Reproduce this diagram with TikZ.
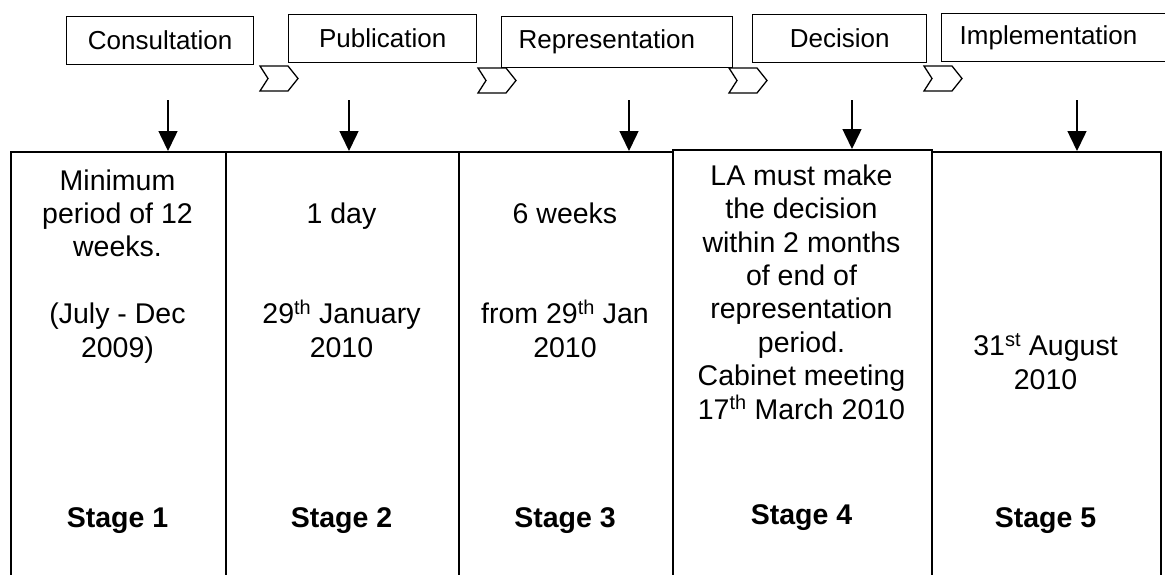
\documentclass[tikz,border=0pt]{standalone}
\usepackage{fontspec}
\setmainfont{Liberation Sans}
\usetikzlibrary{arrows.meta}

\begin{document}
\begin{tikzpicture}[x=1pt, y=-1pt,
    stepbox/.style={draw, line width=1.3pt, inner sep=0pt, minimum height=48pt, anchor=north west, font=\fontsize{26}{30}\selectfont},
    column/.style={draw, line width=1.5pt, fill=white, inner sep=0pt, minimum height=460pt, anchor=north west},
    coltext/.style={align=center, anchor=base, inner sep=0pt, font=\fontsize{28.5}{33.4}\selectfont},
    stagelbl/.style={anchor=base, inner sep=0pt, font=\fontsize{28.5}{33.4}\selectfont\bfseries},
    feed/.style={line width=1.5pt, -{Triangle[length=20pt, width=19pt]}},
    chevron/.pic={\draw[line width=1.3pt] (0,0) -- (28,0) -- (38,12.5) -- (28,25) -- (0,25) -- (8,12.5) -- cycle;}]
    \useasboundingbox[fill=white] (0,0) rectangle (1165,574);

    % top labels
    \node[stepbox, minimum width=187pt] (cons) at (66,16) {Consultation};
    \node[stepbox, minimum width=188pt] (pub) at (288,14) {Publication};
    \node[stepbox, minimum height=51pt, text width=197pt, inner xsep=17pt, align=left] (rep) at (501,16) {Representation};
    \node[stepbox, minimum width=174pt] (dec) at (752,14) {Decision};
    \node[stepbox, text width=212pt, inner xsep=18pt, align=left] (imp) at (941,13) {Implementation};

    % chevrons between the labels
    \pic at (260,66) {chevron};
    \pic at (478,68) {chevron};
    \pic at (729,68) {chevron};
    \pic at (924,66) {chevron};

    % stage columns
    \node[column, minimum width=215pt] (s1) at (10,151) {};
    \node[column, minimum width=233pt] (s2) at (225,151) {};
    \node[column, minimum width=214pt] (s3) at (458,151) {};
    \node[column, minimum width=229pt] (s5) at (931,151) {};
    \node[column, minimum width=259pt] (s4) at (672,149) {};

    % arrows down
    \coordinate (a1) at (168,100);
    \coordinate (a2) at (349,100);
    \coordinate (a3) at (629,100);
    \coordinate (a4) at (852,100);
    \coordinate (a5) at (1077,100);
    \draw[feed] (a1) -- (a1 |- s1.north);
    \draw[feed] (a2) -- (a2 |- s2.north);
    \draw[feed] (a3) -- (a3 |- s3.north);
    \draw[feed] (a4) -- (a4 |- s4.north);
    \draw[feed] (a5) -- (a5 |- s5.north);

    % column texts
    \node[coltext] (t1) at (117.5,357) {Minimum\\period of 12\\weeks.\\[33.4pt](July - Dec\\2009)};
    \node[coltext] (t2) at (341.5,357) {1 day\\[66.8pt]29\textsuperscript{th} January\\2010};
    \node[coltext] (t3) at (565,357) {6 weeks\\[66.8pt]from 29\textsuperscript{th} Jan\\2010};
    \node[coltext] (t4) at (801.5,419) {LA must make\\the decision\\within 2 months\\of end of\\representation\\period.\\Cabinet meeting\\17\textsuperscript{th} March 2010};
    \node[coltext] (t5) at (1045.5,389) {31\textsuperscript{st} August\\2010};

    % stage labels
    \node[stagelbl] (l1) at (117.5,527) {Stage 1};
    \node[stagelbl] (l2) at (341.5,527) {Stage 2};
    \node[stagelbl] (l3) at (565,527) {Stage 3};
    \node[stagelbl] (l4) at (801.5,524) {Stage 4};
    \node[stagelbl] (l5) at (1045.5,527) {Stage 5};
\end{tikzpicture}
\end{document}
